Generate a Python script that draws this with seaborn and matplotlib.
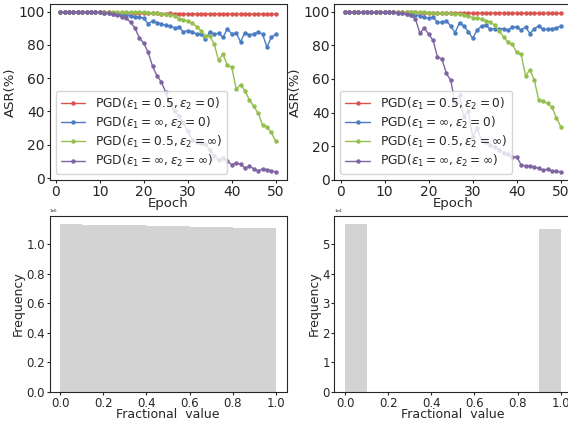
import numpy as np
import pandas as pd
import matplotlib
matplotlib.use("Agg")
import matplotlib.pyplot as plt
import seaborn as sns

epochs = list(range(1, 51))

labels = [r'PGD($\epsilon_1 = 0.5, \epsilon_2 = 0$)',
          r'PGD($\epsilon_1 = \infty, \epsilon_2 = 0$)',
          r'PGD($\epsilon_1 = 0.5, \epsilon_2 = \infty$)',
          r'PGD($\epsilon_1 = \infty, \epsilon_2 = \infty$)']
colors = ['#d9534f', '#4a7cc4', '#94bf4f', '#8064a2']

# left panel
left_red = [99.6, 99.6, 99.6, 99.6, 99.6, 99.6, 99.6, 99.6, 99.6, 99.6,
            99.5, 99.5, 99.4, 99.4, 99.3, 99.3, 99.2, 99.2, 99.1, 99.0,
            99.0, 98.9, 98.9, 98.8, 98.8, 98.9, 98.7, 98.8, 98.7, 98.6,
            98.7, 98.6, 98.5, 98.7, 98.6, 98.5, 98.6, 98.5, 98.7, 98.5,
            98.6, 98.4, 98.6, 98.5, 98.4, 98.6, 98.5, 98.4, 98.6, 98.5]
left_blue = [99.6, 99.6, 99.6, 99.6, 99.6, 99.6, 99.6, 99.6, 99.6, 99.5,
             99.3, 99.0, 98.7, 98.3, 98.0, 97.8, 97.3, 97.0, 96.6, 96.0,
             92.6, 94.4, 93.4, 92.4, 91.8, 91.2, 90.2, 90.6, 87.8, 88.6,
             88.0, 86.4, 86.6, 83.4, 87.8, 86.4, 87.0, 84.4, 89.6, 86.6,
             87.0, 81.8, 87.4, 86.0, 86.6, 87.8, 86.4, 78.6, 84.6, 86.4]
left_green = [99.6, 99.6, 99.6, 99.6, 99.6, 99.6, 99.6, 99.6, 99.6, 99.6,
              99.6, 99.6, 99.6, 99.6, 99.6, 99.6, 99.6, 99.6, 99.6, 99.5,
              99.4, 99.2, 99.0, 98.7, 98.3, 98.0, 97.5, 95.5, 95.2, 94.2,
              93.0, 91.0, 88.5, 85.5, 85.0, 80.6, 70.6, 74.4, 67.6, 66.6,
              53.4, 56.0, 52.4, 47.0, 43.0, 39.0, 32.0, 30.4, 27.4, 22.0]
left_purple = [99.6, 99.6, 99.6, 99.6, 99.6, 99.6, 99.6, 99.6, 99.6, 99.6,
               99.3, 99.0, 98.6, 97.8, 96.8, 96.0, 93.5, 90.0, 84.0, 81.0,
               75.4, 67.0, 61.4, 57.6, 51.4, 45.0, 40.0, 37.5, 33.0, 28.0,
               23.0, 21.5, 21.0, 20.5, 17.0, 13.0, 11.0, 12.0, 10.0, 8.0,
               9.0, 8.4, 6.0, 7.0, 5.6, 4.4, 5.4, 5.0, 4.4, 3.6]

# right panel
right_red = [99.7, 99.7, 99.7, 99.7, 99.7, 99.7, 99.7, 99.7, 99.7, 99.7,
             99.7, 99.7, 99.7, 99.7, 99.7, 99.6, 99.6, 99.5, 99.5, 99.5,
             99.4, 99.4, 99.4, 99.3, 99.4, 99.3, 99.3, 99.2, 99.3, 99.2,
             99.2, 99.3, 99.1, 99.2, 99.2, 99.1, 99.2, 99.1, 99.1, 99.2,
             99.0, 99.1, 99.1, 99.0, 99.1, 99.0, 99.1, 99.0, 99.1, 99.0]
right_blue = [99.6, 99.6, 99.6, 99.6, 99.6, 99.6, 99.6, 99.6, 99.6, 99.6,
              99.6, 99.6, 99.3, 99.0, 98.6, 98.3, 98.0, 97.5, 96.6, 96.0,
              96.8, 93.6, 93.6, 94.6, 91.5, 87.5, 93.5, 91.5, 88.0, 84.2,
              89.0, 91.5, 92.0, 89.5, 90.0, 89.5, 90.0, 89.0, 91.0, 91.0,
              89.0, 91.0, 87.0, 90.0, 91.5, 89.5, 89.5, 90.0, 90.2, 91.5]
right_green = [99.6, 99.6, 99.6, 99.6, 99.6, 99.6, 99.6, 99.6, 99.6, 99.6,
               99.6, 99.6, 99.6, 99.6, 99.6, 99.6, 99.6, 99.6, 99.6, 99.5,
               99.4, 99.3, 99.2, 99.1, 99.0, 98.8, 98.6, 98.3, 97.5, 96.5,
               96.2, 95.5, 94.5, 93.8, 91.9, 88.7, 85.0, 81.8, 80.6, 75.8,
               74.6, 62.0, 65.3, 59.4, 47.5, 46.7, 45.5, 43.2, 37.0, 31.7]
right_purple = [99.6, 99.6, 99.6, 99.6, 99.6, 99.6, 99.6, 99.6, 99.6, 99.6,
                99.6, 99.6, 99.3, 99.0, 98.5, 97.8, 95.6, 87.1, 90.5, 86.5,
                83.0, 72.9, 72.0, 63.4, 59.2, 46.0, 50.3, 37.6, 41.0, 25.7,
                30.6, 23.8, 22.8, 20.8, 19.4, 17.8, 15.9, 15.5, 13.5, 13.9,
                8.9, 8.3, 8.3, 7.5, 6.9, 5.9, 6.3, 5.5, 5.3, 4.7]

# histograms (bin counts)
bin_edges = [0.0, 0.1, 0.2, 0.3, 0.4, 0.5, 0.6, 0.7, 0.8, 0.9, 1.0]
left_counts = [1.135e6, 1.129e6, 1.129e6, 1.129e6, 1.122e6,
               1.122e6, 1.115e6, 1.115e6, 1.108e6, 1.108e6]
right_counts = [5.68e4, 0, 0, 0, 0, 0, 0, 0, 0, 5.53e4]

sns.set_style("ticks")
plt.rcParams['font.family'] = ['DejaVu Sans']

fig = plt.figure(figsize=(5.68, 4.25), dpi=100)
W, H = 568, 425
def add_ax(x0, x1, y0, y1):
    return fig.add_axes([x0 / W, 1 - y1 / H, (x1 - x0) / W, (y1 - y0) / H])

ax1 = add_ax(49.5, 286.5, 4.2, 180)
ax2 = add_ax(334.3, 571.5, 4.2, 180)
ax3 = add_ax(49.5, 286.5, 216, 392)
ax4 = add_ax(334.3, 571.5, 216, 392)

def line_panel(ax, series):
    for vals, lab, col in zip(series, labels, colors):
        df = pd.DataFrame({'Epoch': epochs, 'ASR': vals})
        sns.lineplot(data=df, x='Epoch', y='ASR', ax=ax, color=col, label=lab,
                     marker='o', markersize=3.2, markeredgewidth=0, linewidth=1)
    ax.set_xlabel('Epoch', fontsize=9.5, labelpad=-1.5)
    ax.set_ylabel('ASR(%)', fontsize=9.5, labelpad=1)
    ax.set_xticks([0, 10, 20, 30, 40, 50])
    ax.set_yticks([0, 20, 40, 60, 80, 100])
    ax.tick_params(labelsize=10, length=2.5, pad=0.8)
    ax.legend(loc='lower left', fontsize=8.8, framealpha=0.8,
              labelspacing=0.25, borderpad=0.4)

line_panel(ax1, [left_red, left_blue, left_green, left_purple])
line_panel(ax2, [right_red, right_blue, right_green, right_purple])

centers = [(a + b) / 2 for a, b in zip(bin_edges[:-1], bin_edges[1:])]
for ax, counts in [(ax3, left_counts), (ax4, right_counts)]:
    sns.histplot(x=centers, weights=counts, bins=bin_edges, ax=ax,
                 color='lightgray', alpha=1, linewidth=0)
    ax.set_xlabel('Fractional  value', fontsize=9, labelpad=-1)
    ax.set_ylabel('Frequency', fontsize=9, labelpad=1)
    ax.set_xticks([0.0, 0.2, 0.4, 0.6, 0.8, 1.0])
    ax.ticklabel_format(axis='y', style='sci', scilimits=(0, 0))
    ax.tick_params(labelsize=8.5, length=2.5, pad=0.8)
    ax.yaxis.get_offset_text().set_fontsize(3)

fig.savefig('out.png', dpi=100)
